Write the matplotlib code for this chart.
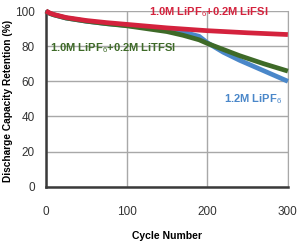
import matplotlib
matplotlib.use('Agg')
import matplotlib.pyplot as plt

# Данные
cyc_red = [0, 5, 10, 25, 50, 75, 100, 150, 200, 250, 300]
ret_red = [100, 98.8, 98, 96.3, 94.6, 93.4, 92.4, 90.4, 88.8, 87.6, 86.6]

cyc_green = [0, 5, 10, 25, 50, 75, 100, 150, 170, 190, 200, 240, 270, 300]
ret_green = [100, 98.6, 97.8, 96, 94.2, 92.8, 91.6, 88.3, 86.2, 83.6, 81.6, 74.6, 70, 65.8]

cyc_blue = [0, 5, 10, 25, 50, 75, 100, 150, 170, 190, 200, 220, 240, 270, 300]
ret_blue = [100, 98.6, 97.8, 96, 94.2, 92.8, 91.8, 89.3, 88, 85.6, 82, 76.5, 72, 66, 60]

x_ticks = [0, 100, 200, 300]
y_ticks = [0, 20, 40, 60, 80, 100]

c_red = '#d4223d'
c_green = '#3e6a28'
c_blue = '#4a87c9'

plt.rcParams['font.family'] = 'Liberation Sans'
plt.rcParams['mathtext.fontset'] = 'custom'
plt.rcParams['mathtext.rm'] = 'Liberation Sans'

fig = plt.figure(figsize=(2.98, 2.42), dpi=100)
ax = fig.add_axes([0.154, 0.2285, 0.812, 0.726])

ax.plot(cyc_blue, ret_blue, color=c_blue, lw=3.4, solid_capstyle='butt', clip_on=False, zorder=3)
ax.plot(cyc_green, ret_green, color=c_green, lw=3.4, solid_capstyle='butt', clip_on=False, zorder=4)
ax.plot(cyc_red, ret_red, color=c_red, lw=3.4, solid_capstyle='butt', clip_on=False, zorder=5)

ax.set_xlim(0, 300)
ax.set_ylim(0, 100)
ax.set_xticks(x_ticks)
ax.set_yticks(y_ticks)
ax.grid(color='#a8a8a8', lw=1.0)
ax.set_axisbelow(True)
ax.tick_params(length=0, labelsize=8.5, labelcolor='#333333')
ax.tick_params(axis='x', pad=14)
ax.tick_params(axis='y', pad=8)

for side in ['left', 'bottom']:
    ax.spines[side].set_color('#3a3a3a')
    ax.spines[side].set_linewidth(1.8)
ax.spines['right'].set_color('#a8a8a8')
ax.spines['top'].set_visible(False)

ax.set_xlabel('Cycle Number', fontsize=7.5, fontweight='bold', labelpad=9)
ax.set_ylabel('Discharge Capacity Retention (%)', fontsize=7.3, fontweight='bold', va='center')
ax.yaxis.set_label_coords(-0.155, 0.49)

fnt = dict(fontsize=8, fontweight='bold')
ax.text(128, 99.5, r'1.0M LiPF$_6$+0.2M LiFSI', color=c_red, va='center', **fnt)
ax.text(5, 79, r'1.0M LiPF$_6$+0.2M LiTFSI', color=c_green, va='center', **fnt)
ax.text(221, 50, r'1.2M LiPF$_6$', color=c_blue, va='center', **fnt)

fig.savefig('out.png', dpi=100)
